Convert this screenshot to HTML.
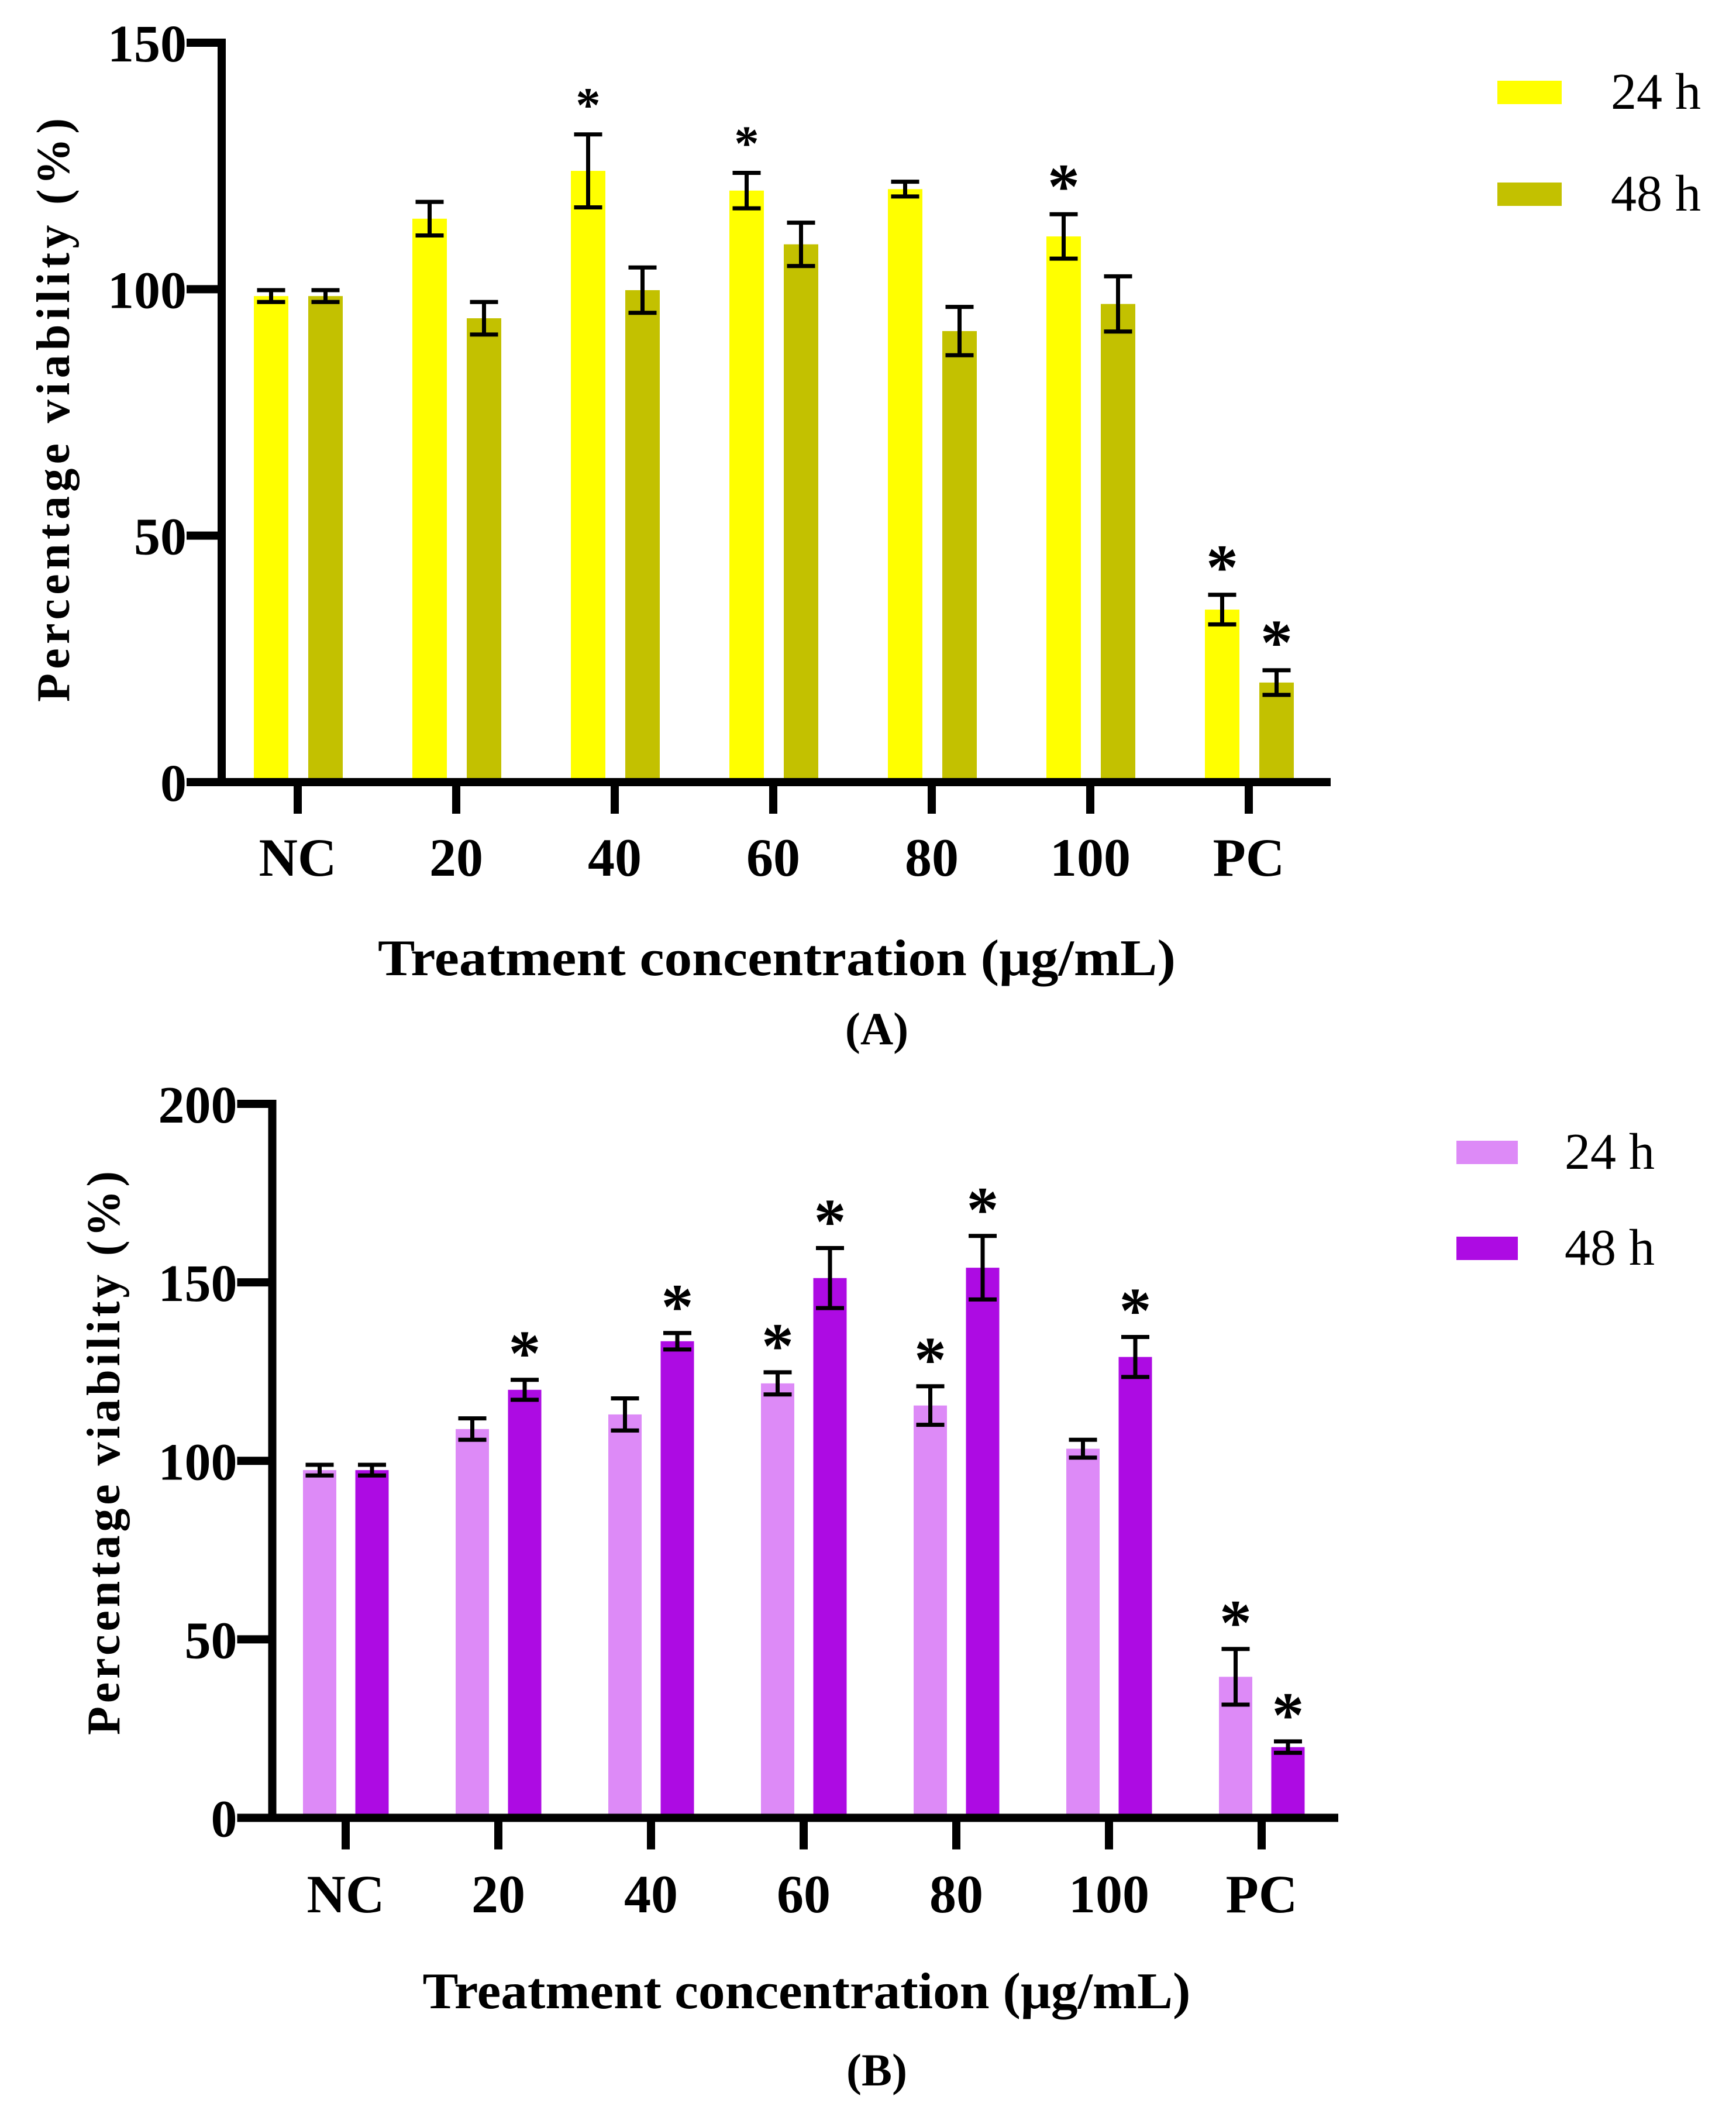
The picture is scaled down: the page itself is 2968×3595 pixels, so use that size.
<!DOCTYPE html>
<html><head><meta charset="utf-8"><style>
html,body{margin:0;padding:0;background:#fff;}
svg{display:block;}
text{font-family:"Liberation Serif",serif;fill:#000;}
</style></head><body>
<svg id="fig" width="2968" height="3595" viewBox="0 0 2968 3595" xmlns="http://www.w3.org/2000/svg"></svg>
<script>
const categories = ["NC","20","40","60","80","100","PC"];
const seriesNames = ["24 h","48 h"];
// Panel A
const a24 = [98.6,114.3,124,120,120.3,110.7,35];
const a24Err = [1.2,3.4,7.4,3.6,1.5,4.5,3];
const a48 = [98.6,94.1,99.8,109.1,91.5,97,20.2];
const a48Err = [1.2,3.3,4.6,4.4,4.9,5.6,2.5];
const a24Star = [0,0,1,1,0,2,2];
const a48Star = [0,0,0,0,0,0,2];
const aTicks = [0,50,100,150];
// Panel B
const b24 = [97.4,108.9,113,121.7,115.5,103.4,39.5];
const b24Err = [1.5,3,4.5,3.1,5.4,2.5,7.8];
const b48 = [97.4,119.9,133.5,151.2,154.1,129.1,19.8];
const b48Err = [1.5,2.8,2.3,8.4,8.9,5.6,1.6];
const b24Star = [0,0,0,2,2,0,2];
const b48Star = [0,2,2,2,2,2,2];
const bTicks = [0,50,100,150,200];

const NS="http://www.w3.org/2000/svg";
const svg=document.getElementById('fig');
function mk(tag,attrs,parent){const e=document.createElementNS(NS,tag);for(const k in attrs)e.setAttribute(k,attrs[k]);(parent||svg).appendChild(e);return e;}

function drawPanel(p){
  const g=mk('g',{});
  
  
  const y=v=>p.y0-(v/p.ymax)*(p.y0-p.yTop);
  const x=i=>p.x0+i*p.step;
  const series=[[p.s1,p.e1,p.st1,p.c1,p.off1],[p.s2,p.e2,p.st2,p.c2,p.off2]];
  series.forEach((s,si)=>{
    s[0].forEach((v,i)=>{
      const cx=x(i)+s[4];
      const r=mk('rect',{x:cx-p.bw/2,y:y(v),width:p.bw,height:p.y0-y(v),fill:s[3]},g);
      
      
      const top=y(v+s[1][i]),bot=y(v-s[1][i]);
      const eb=mk('path',{d:`M${cx},${top}V${bot}M${cx-24},${top}H${cx+24}M${cx-24},${bot}H${cx+24}`,stroke:'#000','stroke-width':7,fill:'none'},g);
      
      
      if(s[2][i]){
        const big=s[2][i]===2;
        const fs=big?110:85;
        const t=mk('text',{x:cx,y:top-p.starGap+fs*0.45,'text-anchor':'middle','font-size':fs,'font-weight':'bold'},g);
        t.textContent='*';
        
        
      }
    });
  });
  const ax=mk('path',{d:`M${p.axX},${p.yTop-7}V${p.y0+7}M${p.axX-54},${p.y0}H${p.xEnd}`,stroke:'#000','stroke-width':14,fill:'none'},g);
  
  
  p.ticks.forEach(t=>{
    const l=mk('line',{x1:p.axX-60,x2:p.axX,y1:y(t),y2:y(t),stroke:'#000','stroke-width':14},g);
    
    
    const tx=mk('text',{x:p.axX-60,y:y(t)+32,'text-anchor':'end','font-size':90,'font-weight':'bold'},g);
    tx.textContent=t;
    
    
  });
  categories.forEach((c,i)=>{
    const l=mk('line',{x1:x(i),x2:x(i),y1:p.y0,y2:p.y0+54,stroke:'#000','stroke-width':14},g);
    
    
    const tx=mk('text',{x:x(i),y:p.labY,'text-anchor':'middle','font-size':92,'font-weight':'bold'},g);
    tx.textContent=c;
    
    
  });
  const xt=mk('text',{x:p.xtX,y:p.xtY,'text-anchor':'middle','font-size':88,'font-weight':'bold',textLength:p.xtW,lengthAdjust:'spacingAndGlyphs'},g);
  xt.textContent='Treatment concentration (μg/mL)';
  
  
  const yt=mk('text',{x:0,y:0,'text-anchor':'middle','font-size':80,'font-weight':'bold',textLength:p.ytLen,lengthAdjust:'spacing',transform:`translate(${p.ytX},${p.ytY}) rotate(-90)`},g);
  yt.textContent='Percentage viability (%)';
  
  
  const pl=mk('text',{x:1499,y:p.panY,'text-anchor':'middle','font-size':78,'font-weight':'bold'},g);
  pl.textContent=p.panel;
  
  
  [p.c1,p.c2].forEach((c,k)=>{
    const r=mk('rect',{x:p.legX,y:p.legY[k],width:p.legW,height:40,fill:c},g);
    
    
    const t=mk('text',{x:p.legTX,y:p.legY[k]+48,'font-size':88},g);
    t.textContent=seriesNames[k];
    
    
  });
}

drawPanel({name:'chart-a',panel:'(A)',y0:1337,yTop:73,ymax:150,x0:509,step:271,bw:59,
  s1:a24,e1:a24Err,st1:a24Star,c1:'#FFFF00',off1:-45.5,
  s2:a48,e2:a48Err,st2:a48Star,c2:'#C3C100',off2:47.5,
  axX:379,xEnd:2275,ticks:aTicks,labY:1497,starGap:60,
  xtX:1328,xtY:1667,xtW:1364,ytX:118,ytY:701,ytLen:998,panY:1785,
  legX:2560,legY:[138,312],legW:110,legTX:2754});
drawPanel({name:'chart-b',panel:'(B)',y0:3107.5,yTop:1887,ymax:200,x0:591,step:261,bw:57,
  s1:b24,e1:b24Err,st1:b24Star,c1:'#DD8AF7',off1:-44.5,
  s2:b48,e2:b48Err,st2:b48Star,c2:'#AD0BE3',off2:45,
  axX:465.5,xEnd:2288,ticks:bTicks,labY:3269,starGap:58,
  xtX:1379,xtY:3433,xtW:1313,ytX:204,ytY:2484,ytLen:964,panY:3565,
  legX:2490,legY:[1950,2114],legW:105,legTX:2675});
</script>
</body></html>
